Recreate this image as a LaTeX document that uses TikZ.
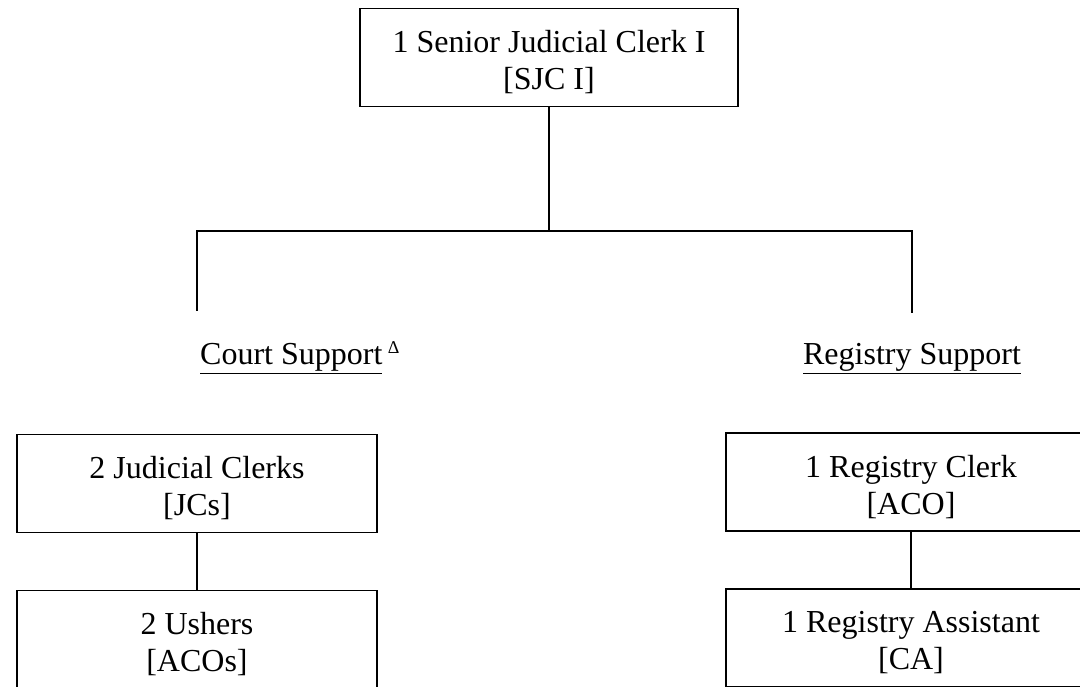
\documentclass[tikz,border=0pt]{standalone}
\usepackage{fontspec}
\setmainfont{Liberation Serif}
\begin{document}
\begin{tikzpicture}[x=1pt,y=-1pt,
  box/.style={draw, line width=1.8pt, minimum height=98pt, inner sep=0pt},
  txt/.style={align=center, inner sep=0pt, font=\fontsize{32}{37}\selectfont},
  conn/.style={line width=1.8pt},
  lab/.style={font=\fontsize{32}{37}\selectfont, inner sep=0pt}]
\useasboundingbox (0,0) rectangle (1080,687);
\node[box, minimum width=378pt] (sjc) at (549,57.5) {};
\node[box, minimum width=360pt] (jc) at (197,483.5) {};
\node[box, minimum width=360pt] (ush) at (197,639.5) {};
\node[box, minimum width=370pt] (rc) at (911,482) {};
\node[box, minimum width=370pt] (ra) at (911,638) {};
\node[txt] (sjct) at ([yshift=-5pt]sjc.center) {1 Senior Judicial Clerk I\\{[SJC I]}};
\node[txt] (jct) at ([yshift=-5pt]jc.center) {2 Judicial Clerks\\{[JCs]}};
\node[txt] (usht) at ([yshift=-5pt]ush.center) {2 Ushers\\{[ACOs]}};
\node[txt] (rct) at ([yshift=-5pt]rc.center) {1 Registry Clerk\\{[ACO]}};
\node[txt] (rat) at ([yshift=-5pt]ra.center) {1 Registry Assistant\\{[CA]}};
\coordinate (bl) at (197,231);
\coordinate (br) at (912,231);
\coordinate (bm) at (sjc.south |- bl);
\coordinate (dl) at (197,311);
\coordinate (dr) at (912,313);
\draw[conn] (sjc.south) -- (bm);
\draw[conn] (dl) -- (bl) -- (br) -- (dr);
\node[lab, anchor=base west] (cs) at (200,365) {\underline{Court Support}\,{\fontsize{18}{18}\selectfont\raisebox{12pt}{Δ}}};
\node[lab, anchor=base] (rs) at (912,365) {\underline{Registry Support}};
\draw[conn] (jc.south) -- (ush.north);
\draw[conn] (rc.south) -- (ra.north);
\end{tikzpicture}
\end{document}
